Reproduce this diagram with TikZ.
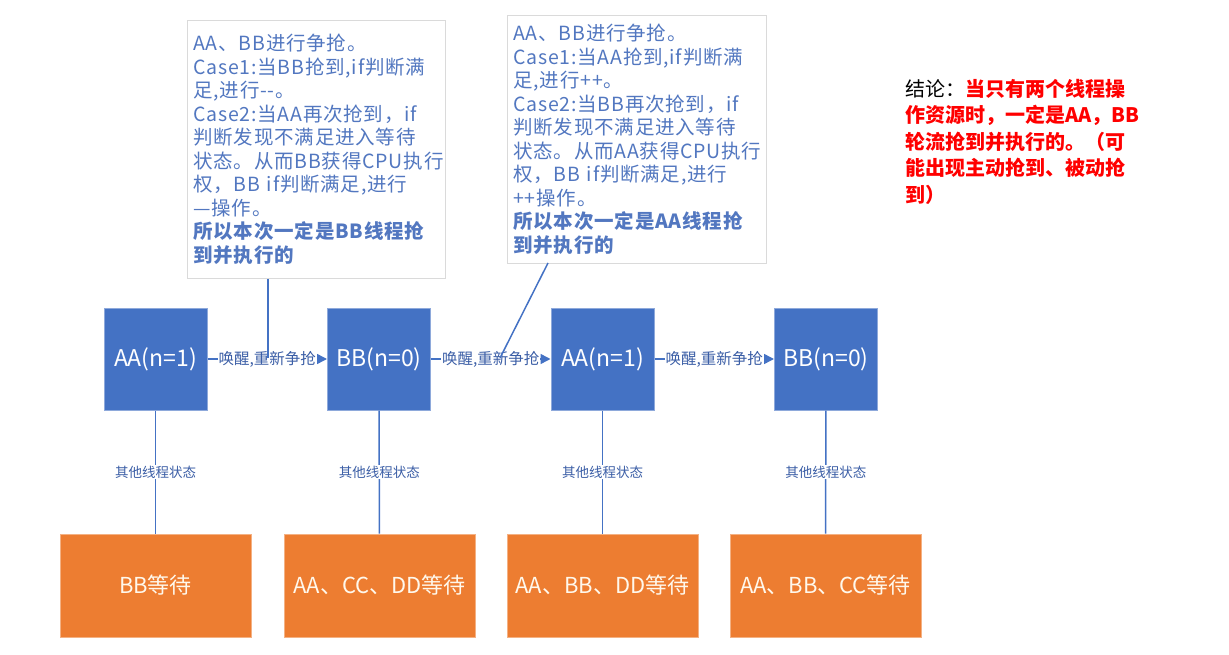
\documentclass[tikz,border=0pt]{standalone}
\usepackage{fontspec}
\setmainfont{Noto Sans CJK SC}
\newfontfamily\notefont[LetterSpace=4]{Noto Sans CJK SC}
\usetikzlibrary{arrows.meta}

\definecolor{boxblue}{HTML}{4472C4}
\definecolor{edgeblue}{HTML}{8EA9DB}
\definecolor{boxorange}{HTML}{ED7D31}
\definecolor{edgeorange}{HTML}{F4B183}
\definecolor{noteblue}{HTML}{5277C0}
\definecolor{notegray}{HTML}{DADADA}
\definecolor{tagblue}{HTML}{3B5EA6}
\definecolor{boxtext}{HTML}{FFF8EC}

\tikzset{
  thread/.style={draw=edgeblue, fill=boxblue, text=white, line width=1pt,
    minimum width=103pt, minimum height=102pt, inner sep=0pt,
    font=\fontsize{23}{26}\selectfont},
  waitbox/.style={draw=edgeorange, fill=boxorange, text=boxtext, line width=1pt,
    minimum width=191pt, minimum height=103pt, inner sep=0pt,
    font=\fontsize{22}{26}\selectfont},
  wake/.style={draw=boxblue, line width=1.5pt, -{Triangle[length=10pt,width=10pt]}},
  link/.style={draw=boxblue, line width=1.5pt},
  tag/.style={fill=white, text=tagblue, inner sep=1pt, font=\fontsize{13.5}{15}\selectfont},
  waketag/.style={fill=white, text=tagblue, inner sep=1pt, font=\fontsize{15.5}{17}\selectfont},
  note/.style={draw=notegray, fill=white, text=noteblue, align=left, anchor=north west,
    inner xsep=6pt, inner ysep=0pt, line width=0.8pt,
    font=\notefont\fontsize{19.5}{23.5}\selectfont},
}

\begin{document}
\begin{tikzpicture}[x=1pt, y=-1pt]
\useasboundingbox (0,0) rectangle (1229,655);

% threads that hold the lock, one after another
\node[thread] (aa1) at (155.5,359) {AA(n=1)};
\node[thread] (bb1) at (379,359) {BB(n=0)};
\node[thread] (aa2) at (602.5,359) {AA(n=1)};
\node[thread] (bb2) at (826,359) {BB(n=0)};

% the other threads, waiting
\node[waitbox] (wait1) at (155.5,585.5) {BB等待};
\node[waitbox] (wait2) at (379.5,585.5) {AA、CC、DD等待};
\node[waitbox] (wait3) at (602.5,585.5) {AA、BB、DD等待};
\node[waitbox] (wait4) at (825.5,585.5) {AA、BB、CC等待};

\draw[link] (aa1) -- node[tag] {其他线程状态} (wait1);
\draw[link] (bb1) -- node[tag] {其他线程状态} (wait2);
\draw[link] (aa2) -- node[tag] {其他线程状态} (wait3);
\draw[link] (bb2) -- node[tag] {其他线程状态} (wait4);

\draw[wake] (aa1) -- node[waketag] {唤醒,重新争抢} (bb1);
\draw[wake] (bb1) -- node[waketag] {唤醒,重新争抢} (aa2);
\draw[wake] (aa2) -- node[waketag] {唤醒,重新争抢} (bb2);

% notes on each handover
\node[note, minimum width=258pt, minimum height=258pt, text width=246pt] (note1) at (187,20) {%
AA、BB进行争抢。\\
Case1:当BB抢到,if判断满\\
足,进行-{}-。\\
Case2:当AA再次抢到，if\\
判断发现不满足进入等待\\
状态。从而BB获得CPU执行\\
权，BB if判断满足,进行\\
—操作。\\
{\bfseries 所以本次一定是BB线程抢}\\
{\bfseries 到并执行的}};

\node[note, minimum width=259pt, minimum height=248pt, text width=247pt] (note2) at (507,15) {%
AA、BB进行争抢。\\
Case1:当AA抢到,if判断满\\
足,进行++。\\
Case2:当BB再次抢到，if\\
判断发现不满足进入等待\\
状态。从而AA获得CPU执行\\
权，BB if判断满足,进行\\
++操作。\\
{\bfseries 所以本次一定是AA线程抢}\\
{\bfseries 到并执行的}};

\coordinate (hit1) at (268,358);
\coordinate (hit2) at (500,358);
\coordinate (tail2) at (548,263);
\draw[link] (hit1 |- note1.south) -- (hit1);
\draw[link] (tail2) -- (hit2);

% conclusion
\node[anchor=north west, align=left, inner sep=0pt, font=\fontsize{20}{26.5}\selectfont] (verdict) at (905,79) {%
结论：\textcolor{red}{\bfseries 当只有两个线程操}\\
\textcolor{red}{\bfseries 作资源时，一定是AA，BB}\\
\textcolor{red}{\bfseries 轮流抢到并执行的。（可}\\
\textcolor{red}{\bfseries 能出现主动抢到、被动抢}\\
\textcolor{red}{\bfseries 到）}};
\end{tikzpicture}
\end{document}
